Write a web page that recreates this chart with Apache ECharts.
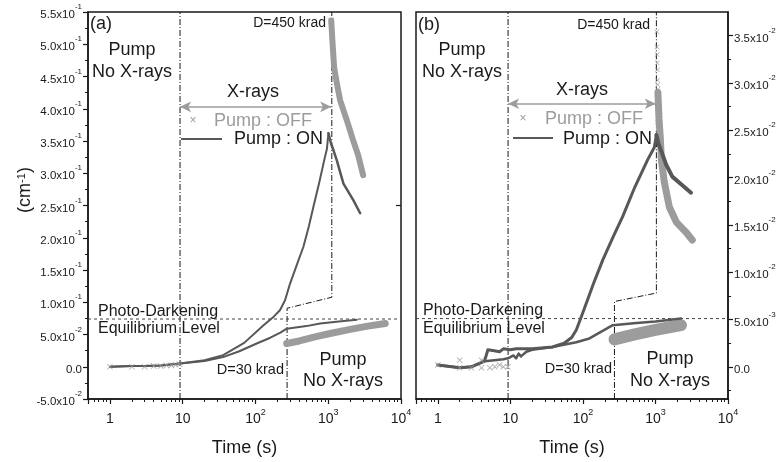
<!DOCTYPE html>
<html><head><meta charset="utf-8">
<script src="https://cdn.jsdelivr.net/npm/echarts@6/dist/echarts.min.js"></script>
<style>html,body{margin:0;padding:0;background:#fff}#c{width:782px;height:462px}</style>
</head><body><div id="c"></div>
<script>
// ---------------- DATA ----------------
const xMin = 0.5, xMax = 10000;
const xTickLabels = ['1', '10', '10^2', '10^3', '10^4'];
const xMinorTicks = [0.6,0.7,0.8,0.9,2,3,4,5,6,7,8,9,20,30,40,50,60,70,80,90,200,300,400,500,600,700,800,900,2000,3000,4000,5000,6000,7000,8000,9000];
// panel (a) y axis
const aYMin = -0.05, aYMax = 0.55, aYStep = 0.05;
const aRightTicks = [0.25];
// panel (b) y axis
const bYMin = -0.0034, bYMax = 0.0375;
const bYMajor = [0, 0.005, 0.01, 0.015, 0.02, 0.025, 0.03, 0.035];
const bYMinor = [-0.0025, 0.0025, 0.0075, 0.0125, 0.0175, 0.0225, 0.0275, 0.0325];

// Panel (a) -- pump ON, X-rays up to 450 krad (rise)
const aOn450T = [1, 2, 3, 5, 9.2, 20, 36, 70, 128, 180, 218, 255, 299, 370, 456, 540, 626, 750, 880, 960, 1007];
const aOn450Y = [0.0, 0.001, 0.001, 0.002, 0.005, 0.010, 0.018, 0.037, 0.064, 0.078, 0.088, 0.103, 0.129, 0.158, 0.186, 0.217, 0.248, 0.285, 0.320, 0.338, 0.362];
// pump ON, recovery after 450 krad
const aOnRecT = [1007, 1100, 1178, 1312, 1618, 2222, 2748];
const aOnRecY = [0.362, 0.345, 0.336, 0.320, 0.284, 0.258, 0.238];
// pump OFF, recovery after 450 krad (dense crosses)
const aOffRecT = [1100, 1140, 1206, 1312, 1458, 1803, 2200, 2580, 3020];
const aOffRecY = [0.537, 0.506, 0.464, 0.440, 0.413, 0.382, 0.351, 0.328, 0.297];
// pump ON, X-rays to 30 krad, then no X-rays
const aOn30T = [1, 2, 3, 5, 9.2, 20, 36, 60, 104, 160, 220, 269, 500, 774, 1400, 2473];
const aOn30Y = [0.0, 0.001, 0.001, 0.002, 0.005, 0.009, 0.015, 0.024, 0.036, 0.045, 0.053, 0.059, 0.063, 0.067, 0.070, 0.073];
// pump OFF after 30 krad (dense crosses)
const aOff30T = [269, 400, 700, 1063, 2000, 3500, 6067];
const aOff30Y = [0.036, 0.040, 0.047, 0.0515, 0.058, 0.063, 0.067];
// pump OFF early points
const aOffEarlyT = [1, 2, 3, 4, 5, 6, 7, 8, 9];
const aOffEarlyY = [0.0, 0.0, 0.0, 0.001, 0.001, 0.002, 0.002, 0.003, 0.004];

// Panel (b) -- pump ON, 450 krad
const bOn450T = [1, 2, 2.9, 4.4, 4.9, 6, 7.1, 8, 10, 12, 15, 20, 38, 55, 70, 81, 92, 105, 140, 188, 260, 354, 520, 782, 966, 1030];
const bOn450Y = [0.0002, -0.0001, 0.0, 0.0006, 0.0018, 0.0017, 0.0016, 0.0019, 0.0018, 0.0019, 0.0019, 0.0019, 0.0021, 0.0025, 0.0031, 0.0039, 0.0050, 0.0062, 0.0088, 0.0113, 0.0137, 0.0159, 0.0190, 0.0219, 0.0232, 0.0245];
// pump ON, 30 krad then no X-rays
const bOn30T = [1, 2, 2.9, 4.4, 6, 8, 9.3, 11, 12, 13, 14, 16.6, 20, 38, 81, 123, 258, 500, 1000, 2250];
const bOn30Y = [0.0002, -0.0001, 0.0, 0.0006, 0.0007, 0.0008, 0.0009, 0.0012, 0.0009, 0.0014, 0.0011, 0.0016, 0.0018, 0.0021, 0.0026, 0.0030, 0.0044, 0.0046, 0.0048, 0.0051];
// pump ON recovery after 450 krad
const bOnRecT = [1030, 1100, 1190, 1400, 1706, 2345, 3090];
const bOnRecY = [0.0245, 0.0236, 0.0229, 0.0214, 0.0201, 0.0192, 0.0184];
// pump OFF recovery after 450 krad (sparse crosses, then dense band)
const bOffSparseT = [1045, 1050, 1055, 1060, 1065, 1070, 1075, 1080];
const bOffSparseY = [0.0354, 0.0338, 0.0330, 0.0321, 0.0314, 0.0303, 0.0298, 0.0293];
const bOffRecT = [1080, 1120, 1170, 1206, 1325, 1552, 1938, 2660, 3220];
const bOffRecY = [0.0290, 0.0262, 0.0240, 0.0219, 0.0195, 0.0169, 0.0153, 0.0142, 0.0134];
// pump OFF after 30 krad (dense crosses)
const bOff30T = [272, 500, 1000, 2250];
const bOff30Y = [0.0029, 0.0034, 0.0039, 0.0044];
// pump OFF early points
const bOffEarlyT = [1, 2, 2, 2.9, 4, 4, 5.2, 6.1, 7.1, 8, 9.2];
const bOffEarlyY = [0.0002, 0.0007, -0.0001, -0.0001, 0.0007, -0.0001, -0.0001, 0.0, 0.0002, 0.0, 0.0];

// reference lines
const aXrayStart = 9.2, aDose450 = 1120, dose30 = 272;
const bXrayStart = 9.3, bDose450 = 1030;
const aEquil = 0.074, bEquil = 0.0051;
const aDoseLineT = [dose30, dose30, aDose450, aDose450];
const aDoseLineY = [aYMin, 0.0907, 0.1078, aYMax];
const bDoseLineT = [dose30, dose30, bDose450, bDose450];
const bDoseLineY = [bYMin, 0.0069, 0.0078, bYMax];
const aArrowY = 0.403, bArrowY = 0.0278;

// ---------------- CHART ----------------
const zip = (t, y) => t.map((v, i) => [v, y[i]]);
const DARK = '#585858', LIGHT = '#9c9c9c', INK = '#1a1a1a';
const FONT = 'Liberation Sans, Arial, sans-serif';
const crossPath = 'path://M0,1L1,0L5,4L9,0L10,1L6,5L10,9L9,10L5,6L1,10L0,9L4,5Z';
const dashDot = [6, 2, 1, 2];
const PLOT_H = 387, PLOT_W_B = 312;

function sci(v) {
  if (Math.abs(v) < 1e-12) return '{n|0.0}';
  const e = Math.floor(Math.log10(Math.abs(v)) + 1e-9);
  const m = v / Math.pow(10, e);
  return '{n|' + m.toFixed(1) + 'x10}{s|' + e + '}';
}
const yRich = {
  n: { fontSize: 11.5, fontFamily: FONT, color: INK, lineHeight: 18, verticalAlign: 'bottom' },
  s: { fontSize: 8, fontFamily: FONT, color: INK, lineHeight: 10, verticalAlign: 'top' }
};
function xLab(v) {
  const l = Math.log10(v), e = Math.round(l);
  if (Math.abs(l - e) > 1e-6) return '';
  const s = xTickLabels[e];
  if (!s) return '';
  const p = s.split('^');
  return p.length > 1 ? '{n|' + p[0] + '}{s|' + p[1] + '}' : '{n|' + p[0] + '}';
}
const xRich = {
  n: { fontSize: 14, fontFamily: FONT, color: INK, lineHeight: 18, verticalAlign: 'bottom' },
  s: { fontSize: 9, fontFamily: FONT, color: INK, lineHeight: 8, verticalAlign: 'top' }
};

function mainX(gi) {
  return {
    type: 'log', gridIndex: gi, min: xMin, max: xMax, logBase: 10, position: 'bottom',
    axisLine: { show: true, onZero: false, lineStyle: { color: INK, width: 1.5 } },
    axisTick: { show: true, length: 5, lineStyle: { color: INK, width: 1.2 } },
    axisLabel: { formatter: xLab, rich: xRich, margin: 9 },
    splitLine: { show: false },
    name: 'Time (s)', nameLocation: 'middle', nameGap: 40,
    nameTextStyle: { fontSize: 18, fontFamily: FONT, color: INK }
  };
}
// minor ticks: a top-positioned axis shifted down onto the bottom edge (ticks point outward/down)
function minorX(gi) {
  return {
    type: 'value', gridIndex: gi, min: Math.log10(xMin), max: Math.log10(xMax), position: 'top', offset: -PLOT_H,
    axisLine: { show: false, onZero: false },
    axisTick: { show: true, inside: true, length: 3, customValues: xMinorTicks.map(Math.log10), lineStyle: { color: INK, width: 1 } },
    axisLabel: { show: false }, splitLine: { show: false }
  };
}

function txt(x, y, s, size, fill, align) {
  return { type: 'text', x: x, y: y, silent: true,
    style: { text: s, fontSize: size, fontFamily: FONT, fill: fill || INK, align: align || 'center', verticalAlign: 'middle' } };
}

const graphics = [
  { type: 'text', x: 25, y: 190, rotation: Math.PI / 2, silent: true,
    style: { text: '(cm{s|-1})', fontSize: 18, fontFamily: FONT, fill: INK, align: 'center', verticalAlign: 'middle',
      rich: { s: { fontSize: 11, fontFamily: FONT, fill: INK, lineHeight: 8, verticalAlign: 'top' } } } },
  txt(90, 24, '(a)', 18, INK, 'left'),
  txt(132, 50, 'Pump', 18), txt(132, 72, 'No X-rays', 18),
  txt(253, 92, 'X-rays', 18),
  txt(193, 121, '\u00d7', 12, LIGHT),
  txt(214, 121, 'Pump : OFF', 18, LIGHT, 'left'),
  { type: 'line', silent: true, shape: { x1: 181, y1: 139, x2: 222, y2: 139 }, style: { stroke: DARK, lineWidth: 2 } },
  txt(234, 139, 'Pump : ON', 18, INK, 'left'),
  txt(326, 23, 'D=450 krad', 14, INK, 'right'),
  txt(98, 312, 'Photo-Darkening', 16, INK, 'left'),
  txt(98, 329, 'Equilibrium Level', 16, INK, 'left'),
  txt(284, 370, 'D=30 krad', 14.5, INK, 'right'),
  txt(343, 360, 'Pump', 18), txt(343, 381, 'No X-rays', 18),
  txt(418, 25, '(b)', 18, INK, 'left'),
  txt(462, 50, 'Pump', 18), txt(462, 72, 'No X-rays', 18),
  txt(582, 90, 'X-rays', 18),
  txt(523, 119, '\u00d7', 12, LIGHT),
  txt(545, 119, 'Pump : OFF', 18, LIGHT, 'left'),
  { type: 'line', silent: true, shape: { x1: 513, y1: 138, x2: 553, y2: 138 }, style: { stroke: DARK, lineWidth: 2 } },
  txt(563, 139, 'Pump : ON', 18, INK, 'left'),
  txt(650, 25, 'D=450 krad', 14, INK, 'right'),
  txt(423, 311, 'Photo-Darkening', 16, INK, 'left'),
  txt(423, 329, 'Equilibrium Level', 16, INK, 'left'),
  txt(612, 369, 'D=30 krad', 14.5, INK, 'right'),
  txt(670, 359, 'Pump', 18), txt(670, 381, 'No X-rays', 18)
];

function lineS(xi, yi, data, color, width) {
  return { type: 'line', xAxisIndex: xi, yAxisIndex: yi, data: data, showSymbol: false, symbol: 'none',
    lineStyle: { color: color, width: width, cap: 'round', join: 'round' }, z: 3, silent: true };
}
function crossS(xi, yi, data, size) {
  return { type: 'scatter', xAxisIndex: xi, yAxisIndex: yi, data: data, symbol: crossPath, symbolSize: size || 6,
    itemStyle: { color: LIGHT }, z: 4, silent: true };
}
function refLine(xi, yi, data, type, color) {
  return { type: 'line', xAxisIndex: xi, yAxisIndex: yi, data: data, symbol: 'none', showSymbol: false,
    lineStyle: { color: color || INK, width: 1, type: type }, z: 2, silent: true };
}
function arrow(xi, yi, x1, x2, y) {
  return { type: 'line', xAxisIndex: xi, yAxisIndex: yi, data: [], silent: true,
    markLine: { silent: true, symbol: ['arrow', 'arrow'], symbolSize: [8, 11], label: { show: false },
      lineStyle: { color: LIGHT, width: 1.5, type: 'solid' },
      data: [[{ coord: [x1, y] }, { coord: [x2, y] }]] } };
}

const option = {
  animation: false,
  backgroundColor: '#fff',
  grid: [
    { left: 88, top: 12, width: 313, height: PLOT_H, show: true, borderColor: INK, borderWidth: 1.5 },
    { left: 416, top: 12, width: PLOT_W_B, height: PLOT_H, show: true, borderColor: INK, borderWidth: 1.5 }
  ],
  xAxis: [mainX(0), minorX(0), mainX(1), minorX(1)],
  yAxis: [
    {
      type: 'value', gridIndex: 0, min: aYMin, max: aYMax, interval: aYStep, position: 'left',
      axisLine: { show: true, onZero: false, lineStyle: { color: INK, width: 1.5 } },
      axisTick: { show: true, length: 5, lineStyle: { color: INK, width: 1.2 } },
      minorTick: { show: true, splitNumber: 2, length: 3, lineStyle: { color: INK, width: 1 } },
      axisLabel: { formatter: sci, rich: yRich, margin: 6 },
      splitLine: { show: false }
    },
    {
      type: 'value', gridIndex: 1, min: bYMin, max: bYMax, position: 'right',
      axisLine: { show: true, onZero: false, lineStyle: { color: INK, width: 1.5 } },
      axisTick: { show: true, length: 5, customValues: bYMajor, lineStyle: { color: INK, width: 1.2 } },
      axisLabel: { customValues: bYMajor, formatter: sci, rich: yRich, margin: 6 },
      splitLine: { show: false }
    },
    {
      // minor ticks: a left-positioned axis shifted onto the right edge (ticks point outward/right)
      type: 'value', gridIndex: 1, min: bYMin, max: bYMax, position: 'left', offset: -PLOT_W_B,
      axisLine: { show: false, onZero: false },
      axisTick: { show: true, inside: true, length: 3, customValues: bYMinor, lineStyle: { color: INK, width: 1 } },
      axisLabel: { show: false }, splitLine: { show: false }
    },
    {
      type: 'value', gridIndex: 0, min: aYMin, max: aYMax, position: 'right',
      axisLine: { show: false, onZero: false },
      axisTick: { show: true, inside: true, length: 5, customValues: aRightTicks, lineStyle: { color: INK, width: 1.2 } },
      axisLabel: { show: false }, splitLine: { show: false }
    }
  ],
  graphic: graphics,
  series: [
    refLine(0, 0, [[aXrayStart, aYMin], [aXrayStart, aYMax]], dashDot),
    refLine(0, 0, zip(aDoseLineT, aDoseLineY), dashDot),
    refLine(0, 0, [[xMin, aEquil], [xMax, aEquil]], [3, 3], '#444'),
    arrow(0, 0, aXrayStart, aDose450 * 0.98, aArrowY),
    crossS(0, 0, zip(aOffEarlyT, aOffEarlyY), 6),
    lineS(0, 0, zip(aOff30T, aOff30Y), LIGHT, 7),
    lineS(0, 0, zip(aOffRecT, aOffRecY), LIGHT, 6),
    crossS(0, 0, [[aOffRecT[0], aOffRecY[0]]], 6),
    lineS(0, 0, zip(aOn30T, aOn30Y), DARK, 2),
    lineS(0, 0, zip(aOn450T, aOn450Y), DARK, 2),
    lineS(0, 0, zip(aOnRecT, aOnRecY), DARK, 2.5),
    refLine(2, 1, [[bXrayStart, bYMin], [bXrayStart, bYMax]], dashDot),
    refLine(2, 1, zip(bDoseLineT, bDoseLineY), dashDot),
    refLine(2, 1, [[xMin, bEquil], [xMax, bEquil]], [3, 3], '#444'),
    arrow(2, 1, bXrayStart, bDose450 * 0.98, bArrowY),
    crossS(2, 1, zip(bOffEarlyT, bOffEarlyY), 6),
    lineS(2, 1, zip(bOff30T, bOff30Y), LIGHT, 12),
    lineS(2, 1, zip(bOffRecT, bOffRecY), LIGHT, 7),
    crossS(2, 1, zip(bOffSparseT, bOffSparseY), 5),
    lineS(2, 1, zip(bOn30T, bOn30Y), DARK, 2.5),
    lineS(2, 1, zip(bOn450T, bOn450Y), DARK, 3),
    lineS(2, 1, zip(bOnRecT, bOnRecY), DARK, 4)
  ]
};
const chart = echarts.init(document.getElementById('c'), null, { renderer: 'canvas' });
chart.setOption(option);
</script>
</body></html>
